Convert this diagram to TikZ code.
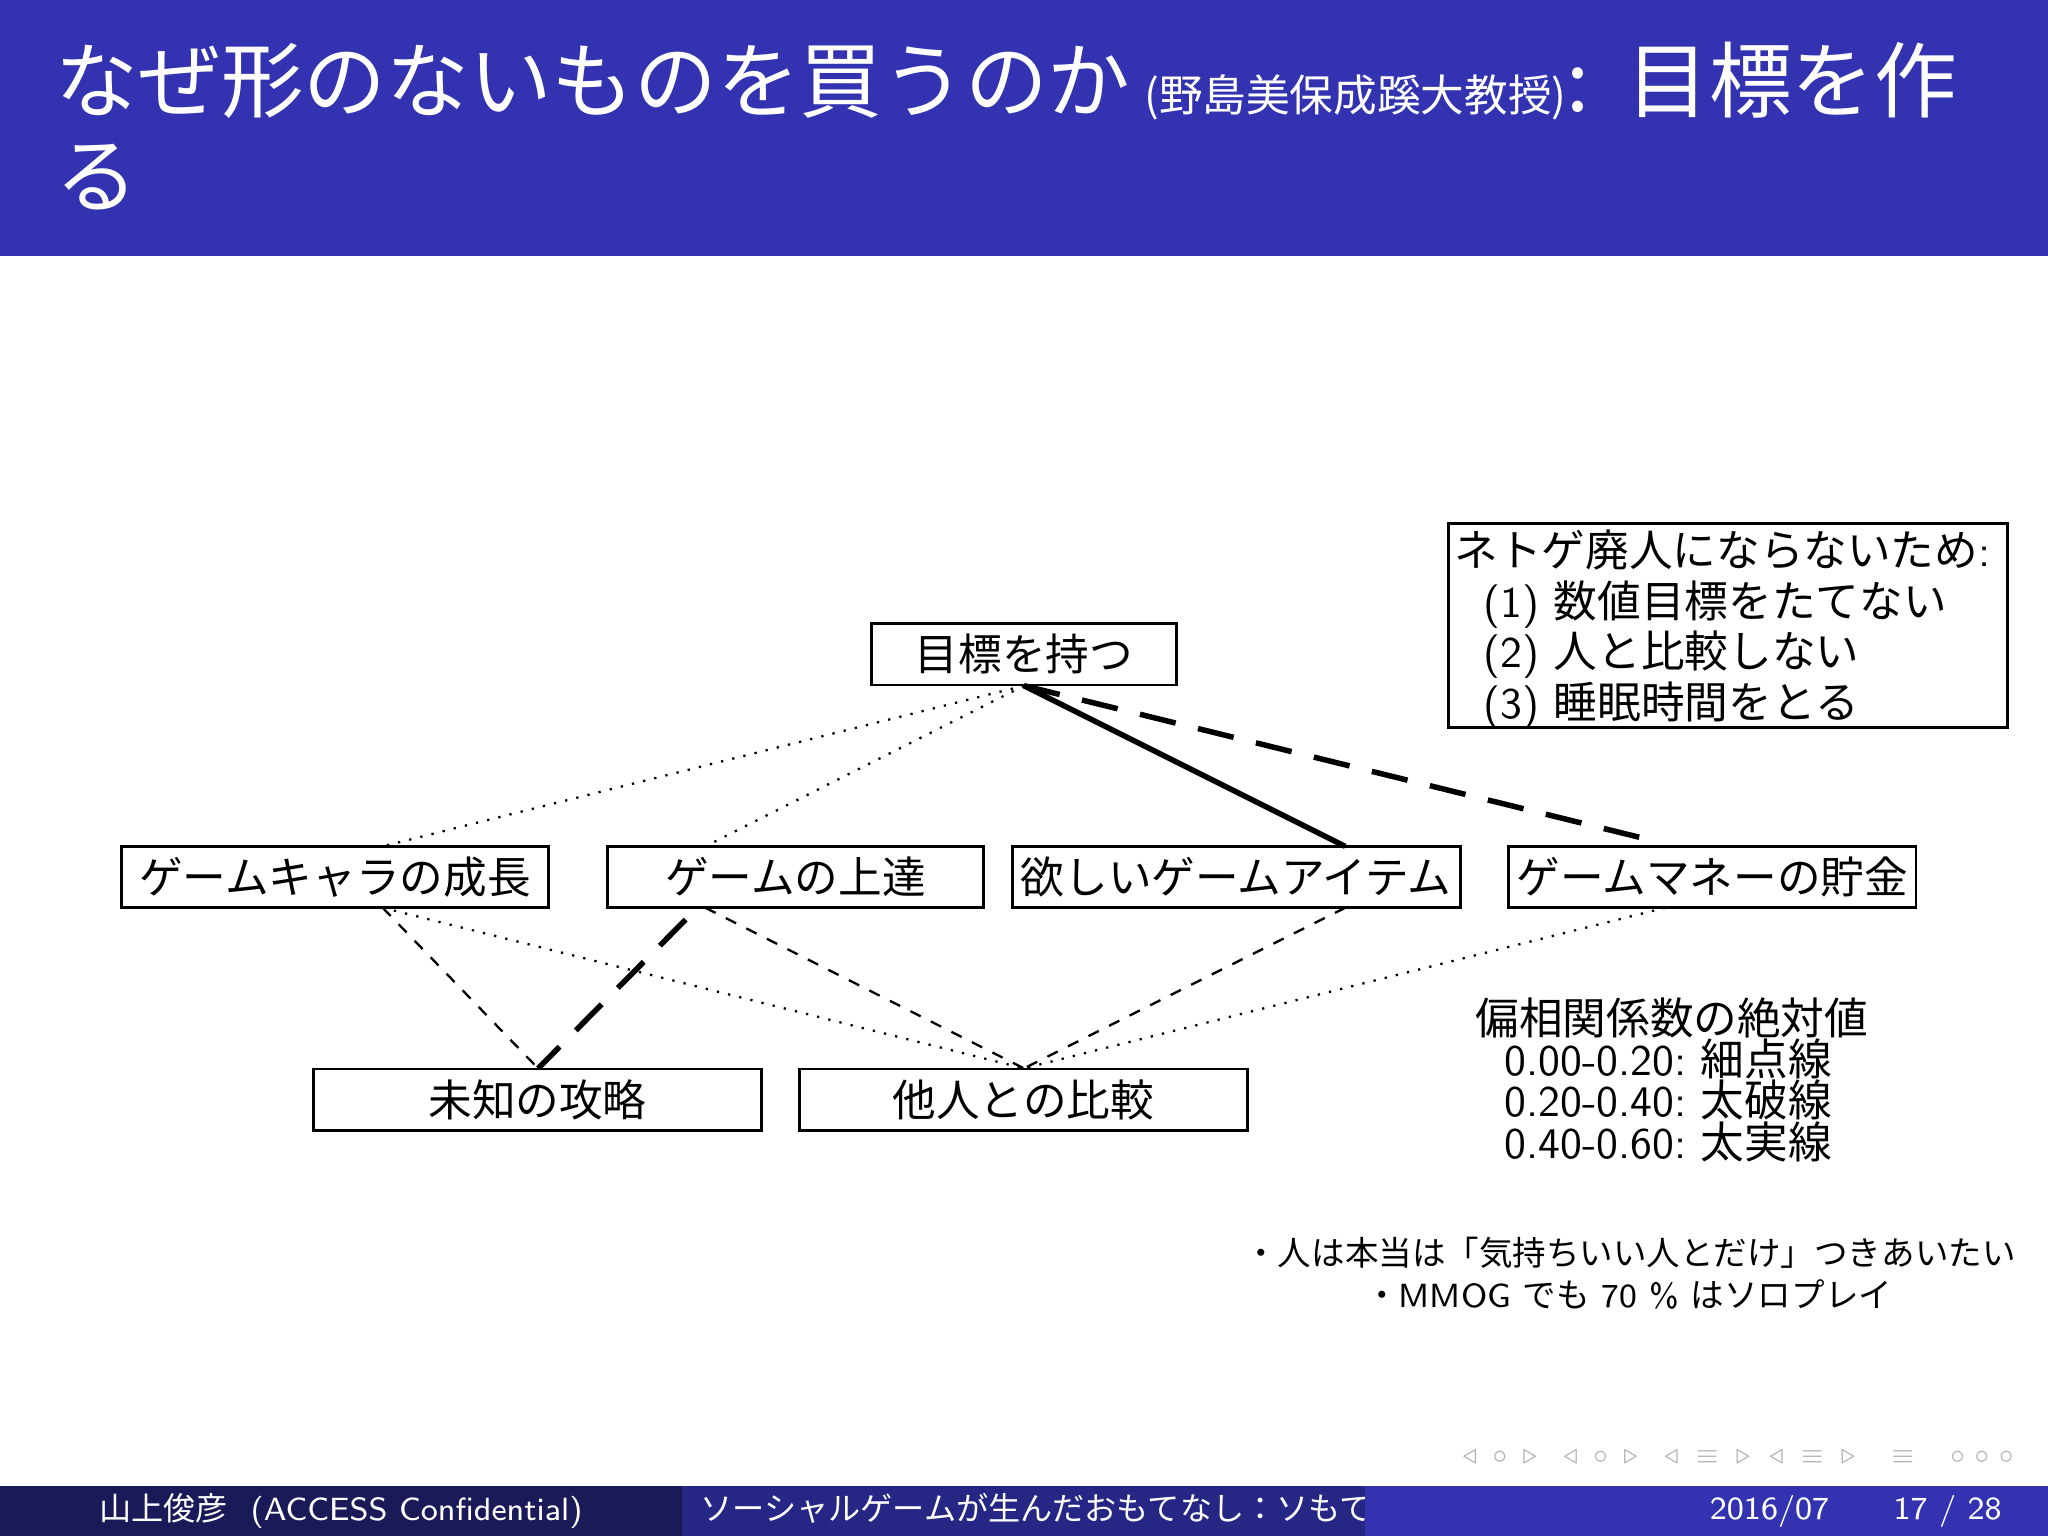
\documentclass[tikz,border=0pt]{standalone}
\usepackage{fontspec}
\renewcommand\familydefault{\sfdefault}
\newfontfamily\cjk{Noto Sans CJK JP}
\usetikzlibrary{positioning}
\definecolor{bbar}{HTML}{3333B2}
\definecolor{fdark}{HTML}{1A1A59}
\definecolor{fmid}{HTML}{262685}
\begin{document}
\begin{tikzpicture}[x=0.01cm,y=-0.01cm,
  bx/.style={draw,line width=0.6pt,minimum height=47*0.01cm,inner sep=0pt,font=\fontsize{9.5}{11}\selectfont\cjk},
  thin dot/.style={dotted,line width=0.5pt},
  thin dash/.style={dash pattern=on 2.5pt off 2.5pt,line width=0.5pt},
  thick dash/.style={dash pattern=on 8pt off 5pt,line width=1.2pt},
  thick solid/.style={line width=1.2pt}]
\useasboundingbox (0,0) rectangle (1568,1176);
\fill[bbar] (0,0) rectangle (1568,196);
\node[anchor=base west,text=white,inner sep=0pt] (t1) at (42,85)
 {\fontsize{18}{20}\selectfont\cjk なぜ形のないものを買うのか\,{\fontsize{9.5}{10}\selectfont(野島美保成蹊大教授)}:\ \ 目標を作};
\node[anchor=base west,text=white,inner sep=0pt] (t2) at (42,158) {\fontsize{18}{20}\selectfont\cjk る};

\node[bx,minimum width=234*0.01cm] (goal) at (784,501) {目標を持つ};
\node[bx,minimum width=327*0.01cm] (a) at (256.5,671.5) {ゲームキャラの成長};
\node[bx,minimum width=288*0.01cm] (b) at (609,671.5) {ゲームの上達};
\node[bx,minimum width=343*0.01cm] (c) at (946.5,671.5) {欲しいゲームアイテム};
\node[bx,minimum width=312*0.01cm] (d) at (1311,671.5) {ゲームマネーの貯金};
\node[bx,minimum width=343*0.01cm] (e) at (411.5,842) {未知の攻略};
\node[bx,minimum width=343*0.01cm] (f) at (783.5,842) {他人との比較};

\node[draw,line width=0.6pt,anchor=north west,minimum width=428*0.01cm,minimum height=156*0.01cm,inner sep=0pt] (note) at (1108,400) {};
\node[anchor=north west,align=left,inner sep=0pt,font=\fontsize{9.5}{11}\selectfont] (nt) at (1113,405)
 {{\cjk ネトゲ廃人にならないため}:\\
  \ \ (1) {\cjk 数値目標をたてない}\\
  \ \ (2) {\cjk 人と比較しない}\\
  \ \ (3) {\cjk 睡眠時間をとる}};

\coordinate (gb) at (784,525);
\draw[thin dot] (gb) -- (293,648);
\draw[thin dot] (gb) -- (540,648);
\draw[thick solid] (gb) -- (1030,648);
\draw[thick dash] (gb) -- (1255,641);
\coordinate (fb) at (784,818);
\coordinate (eb) at (412,818);
\draw[thin dash] (293,695) -- (eb);
\draw[thin dot] (293,695) -- (fb);
\draw[thick dash] (525,704) -- (eb);
\draw[thin dash] (540,695) -- (fb);
\draw[thin dash] (1030,695) -- (fb);
\draw[thin dot] (1275,695) -- (fb);

\node[anchor=north,align=left,inner sep=0pt,font=\fontsize{9.5}{9}\selectfont] (leg) at (1280,763)
 {{\cjk 偏相関係数の絶対値}\\
  \ \ 0.00-0.20:\ {\cjk 細点線}\\
  \ \ 0.20-0.40:\ {\cjk 太破線}\\
  \ \ 0.40-0.60:\ {\cjk 太実線}};
\node[inner sep=0pt,font=\fontsize{7.3}{8}\selectfont\cjk] (m1) at (1248,959) {・人は本当は「気持ちいい人とだけ」つきあいたい};
\node[inner sep=0pt,font=\fontsize{7.3}{8}\selectfont] (m2) at (1247,991) {{\cjk ・}MMOG {\cjk でも} 70 \% {\cjk はソロプレイ}};

\node[text=gray!60,font=\fontsize{5}{6}\selectfont,anchor=east] (nav) at (1555,1115) {$\triangleleft\,\circ\,\triangleright\ \ \triangleleft\,\circ\,\triangleright\ \ \triangleleft\,\equiv\,\triangleright\ \ \triangleleft\,\equiv\,\triangleright\ \ \ \equiv\ \ \ \circ\circ\circ$};

\fill[fdark] (0,1138) rectangle (522,1176);
\fill[fmid] (522,1138) rectangle (1045,1176);
\fill[bbar] (1045,1138) rectangle (1568,1176);
\node[text=white,font=\fontsize{7}{8}\selectfont] (f1) at (261,1157) {{\cjk 山上俊彦}\ \ (ACCESS Confidential)};
\begin{scope}
\clip (522,1138) rectangle (1045,1176);
\node[text=white,anchor=west,font=\fontsize{7}{8}\selectfont\cjk] (f2) at (524,1155) {ソーシャルゲームが生んだおもてなし：ソもてなし};
\end{scope}
\node[text=white,anchor=east,font=\fontsize{7}{8}\selectfont] (f3) at (1545,1157) {2016/07\qquad 17 / 28};
\end{tikzpicture}
\end{document}
